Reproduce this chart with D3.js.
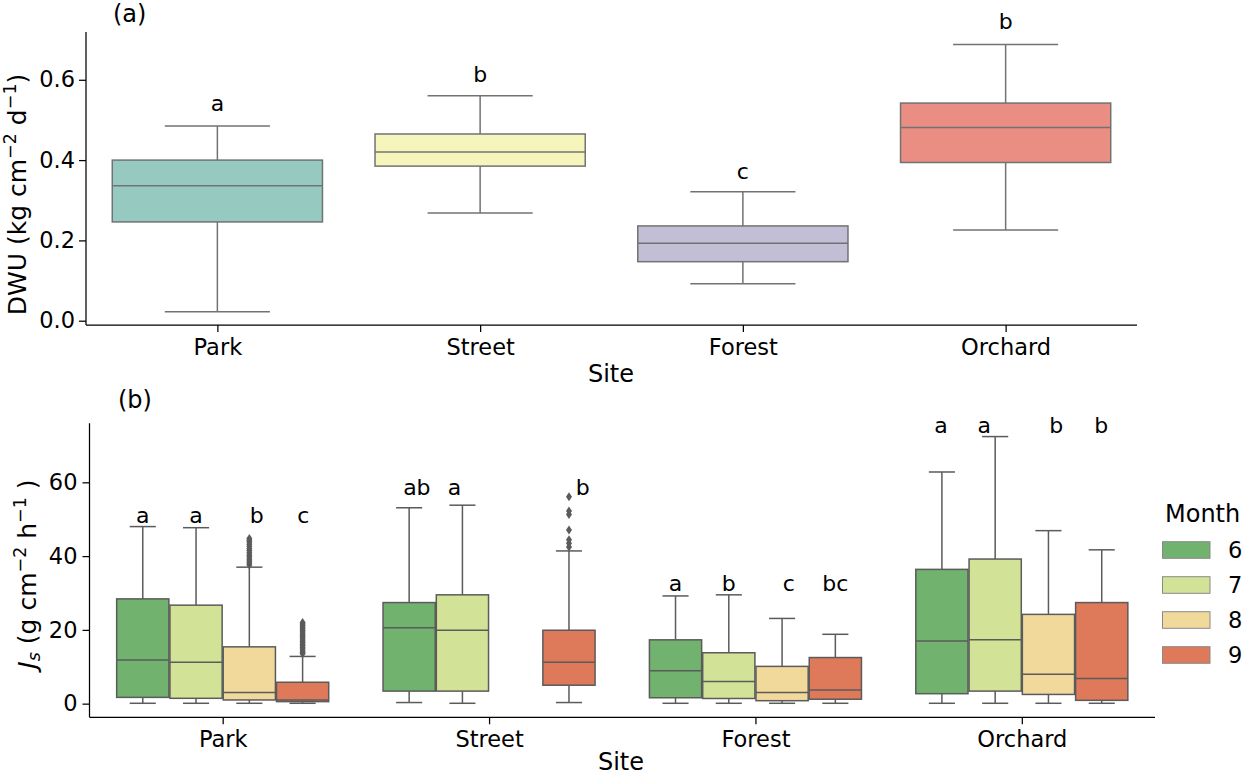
<!DOCTYPE html>
<html><head><meta charset="utf-8">
<script src="https://cdn.jsdelivr.net/npm/d3@7"></script>
<style>
html,body{margin:0;padding:0;background:#fff;}
svg{display:block;font-family:"DejaVu Sans",sans-serif;}
</style></head>
<body><svg id="chart" width="1242" height="776"></svg>
<script>
// ---------------- data ----------------
const sites = ["Park", "Street", "Forest", "Orchard"];
// panel (a): DWU box statistics
const dwuWhiskLow  = [0.022, 0.268, 0.092, 0.226];
const dwuQ1        = [0.246, 0.385, 0.147, 0.394];
const dwuMedian    = [0.336, 0.420, 0.193, 0.481];
const dwuQ3        = [0.400, 0.465, 0.236, 0.542];
const dwuWhiskHigh = [0.485, 0.560, 0.321, 0.688];
const dwuLetters   = ["a", "b", "c", "b"];
const dwuLetterY   = [0.522, 0.594, 0.353, 0.726];
const dwuColors    = ["#96cac1", "#f6f6bc", "#c1bed6", "#ea8e83"];
const dwuTicks     = [0.0, 0.2, 0.4, 0.6];

// panel (b): Js box statistics per site (rows) and month (columns)
const months = ["6", "7", "8", "9"];
const monthColors = ["#71b26e", "#d2e297", "#f0d99a", "#de7959"];
const jsWhiskLow = [[0.1, 0.1, 0.1, 0.1], [0.3, 0.1, null, 0.3], [0.1, 0.1, 0.1, 0.1], [0.1, 0.1, 0.1, 0.1]];
const jsQ1       = [[1.7, 1.45, 1.0, 0.55], [3.4, 3.4, null, 5.0], [1.6, 1.4, 0.8, 1.2], [2.7, 3.4, 2.5, 0.9]];
const jsMedian   = [[11.8, 11.2, 3.0, 1.0], [20.6, 19.9, null, 11.2], [8.9, 6.0, 3.0, 3.7], [17.0, 17.3, 8.0, 6.8]];
const jsQ3       = [[28.4, 26.7, 15.4, 5.8], [27.4, 29.5, null, 19.9], [17.3, 13.8, 10.1, 12.5], [36.4, 39.2, 24.2, 27.4]];
const jsWhiskHigh= [[48.0, 47.7, 37.0, 12.8], [53.1, 53.8, null, 41.4], [29.2, 29.5, 23.1, 18.8], [62.8, 72.4, 46.9, 41.7]];
const jsOutliers = [
  [[], [], [37.6, 38.1, 38.7, 39.2, 39.8, 40.3, 40.9, 41.5, 42.0, 42.6, 43.2, 43.8, 44.3, 44.8],
   [13.5, 13.9, 14.3, 14.8, 15.2, 15.7, 16.1, 16.6, 17.0, 17.5, 18.0, 18.4, 18.9, 19.4, 19.8, 20.3, 20.8, 21.2, 21.6, 22.0]],
  [[], [], [], [42.5, 43.5, 44.4, 47.1, 51.3, 52.2, 56.1]],
  [[], [], [], []],
  [[], [], [], []]
];
const jsLetters  = [["a", "a", "b", "c"], ["ab", "a", "", "b"], ["a", "b", "c", "bc"], ["a", "a", "b", "b"]];
const jsLetterX  = [[-0.30, -0.10, 0.128, 0.303], [-0.271, -0.13, 0, 0.352], [-0.30, -0.10, 0.125, 0.30], [-0.303, -0.141, 0.129, 0.298]];
const jsLetterY  = [49.0, 56.5, 30.5, 73.4];
const jsTicks    = [0, 20, 40, 60];

// ---------------- drawing ----------------
const svg = d3.select("#chart");
const FONT = 22.5;
const LABEL = 25;
const SUP = 17.5;

// ===== Panel (a) =====
const xa = d3.scaleLinear().domain([-0.5, 3.5]).range([86, 1137]);
const ya = d3.scaleLinear().domain([-0.0107, 0.719]).range([325, 32]);
const gA = svg.append("g");
const lineA = "#727272";
const bwA = 0.8 * (xa(1) - xa(0));

sites.forEach((s, i) => {
  const cx = xa(i);
  const g = gA.append("g");
  g.append("line").attr("x1", cx).attr("x2", cx).attr("y1", ya(dwuQ3[i])).attr("y2", ya(dwuWhiskHigh[i]))
    .attr("stroke", lineA).attr("stroke-width", 1.5);
  g.append("line").attr("x1", cx).attr("x2", cx).attr("y1", ya(dwuQ1[i])).attr("y2", ya(dwuWhiskLow[i]))
    .attr("stroke", lineA).attr("stroke-width", 1.5);
  [dwuWhiskHigh[i], dwuWhiskLow[i]].forEach(v => {
    g.append("line").attr("x1", cx - bwA / 4).attr("x2", cx + bwA / 4).attr("y1", ya(v)).attr("y2", ya(v))
      .attr("stroke", lineA).attr("stroke-width", 1.5);
  });
  g.append("rect").attr("x", cx - bwA / 2).attr("width", bwA)
    .attr("y", ya(dwuQ3[i])).attr("height", ya(dwuQ1[i]) - ya(dwuQ3[i]))
    .attr("fill", dwuColors[i]).attr("stroke", lineA).attr("stroke-width", 1.5);
  g.append("line").attr("x1", cx - bwA / 2).attr("x2", cx + bwA / 2).attr("y1", ya(dwuMedian[i])).attr("y2", ya(dwuMedian[i]))
    .attr("stroke", lineA).attr("stroke-width", 1.5);
  gA.append("text").attr("x", cx).attr("y", ya(dwuLetterY[i])).attr("text-anchor", "middle")
    .attr("font-size", 22).attr("fill", "#000").text(dwuLetters[i]);
});

const axAy = gA.append("g").attr("transform", "translate(86,0)")
  .call(d3.axisLeft(ya).tickValues(dwuTicks).tickFormat(d3.format(".1f")).tickSize(7).tickPadding(4));
const axAx = gA.append("g").attr("transform", "translate(0,325)")
  .call(d3.axisBottom(xa).tickValues([0, 1, 2, 3]).tickFormat(i => sites[i]).tickSize(7).tickPadding(7));
[axAy, axAx].forEach(ax => {
  ax.selectAll("text").attr("font-size", FONT).attr("fill", "#000").attr("font-family", "DejaVu Sans");
  ax.selectAll("line").attr("stroke", "#000").attr("stroke-width", 1.25);
  ax.select(".domain").attr("stroke", "#000").attr("stroke-width", 1.25);
});
axAy.select(".domain").attr("d", "M0,32V325");
axAx.select(".domain").attr("d", "M86,0H1137");

gA.append("text").attr("x", 611).attr("y", 382).attr("text-anchor", "middle").attr("font-size", 24).text("Site");
gA.append("text").attr("x", 113).attr("y", 22).attr("font-size", 24).text("(a)");
{
  const t = gA.append("text").attr("transform", "translate(26,194.5) rotate(-90)")
    .attr("text-anchor", "middle").attr("font-size", LABEL);
  t.append("tspan").text("DWU (kg cm");
  t.append("tspan").attr("dy", -10).attr("font-size", SUP).text("\u22122");
  t.append("tspan").attr("dy", 10).text(" d");
  t.append("tspan").attr("dy", -10).attr("font-size", SUP).text("\u22121");
  t.append("tspan").attr("dy", 10).text(")");
}

// ===== Panel (b) =====
const xb = d3.scaleLinear().domain([-0.5, 3.5]).range([89.5, 1155]);
const yb = d3.scaleLinear().domain([-3.7, 76]).range([717.3, 423.3]);
const gB = svg.append("g");
const lineB = "#5b5b5b";
const unit = xb(1) - xb(0);
const hueW = 0.8 * unit / months.length;
const boxW = hueW * 0.98;

sites.forEach((s, i) => {
  months.forEach((m, j) => {
    if (jsQ1[i][j] == null) return;
    const cx = xb(i) + (j - (months.length - 1) / 2) * hueW;
    const g = gB.append("g");
    g.append("line").attr("x1", cx).attr("x2", cx).attr("y1", yb(jsQ3[i][j])).attr("y2", yb(jsWhiskHigh[i][j]))
      .attr("stroke", lineB).attr("stroke-width", 1.5);
    g.append("line").attr("x1", cx).attr("x2", cx).attr("y1", yb(jsQ1[i][j])).attr("y2", yb(jsWhiskLow[i][j]))
      .attr("stroke", lineB).attr("stroke-width", 1.5);
    [jsWhiskHigh[i][j], jsWhiskLow[i][j]].forEach(v => {
      g.append("line").attr("x1", cx - boxW / 4).attr("x2", cx + boxW / 4).attr("y1", yb(v)).attr("y2", yb(v))
        .attr("stroke", lineB).attr("stroke-width", 1.5);
    });
    g.append("rect").attr("x", cx - boxW / 2).attr("width", boxW)
      .attr("y", yb(jsQ3[i][j])).attr("height", yb(jsQ1[i][j]) - yb(jsQ3[i][j]))
      .attr("fill", monthColors[j]).attr("stroke", lineB).attr("stroke-width", 1.5);
    g.append("line").attr("x1", cx - boxW / 2).attr("x2", cx + boxW / 2).attr("y1", yb(jsMedian[i][j])).attr("y2", yb(jsMedian[i][j]))
      .attr("stroke", lineB).attr("stroke-width", 1.5);
    jsOutliers[i][j].forEach(v => {
      const y = yb(v);
      g.append("path").attr("d", `M${cx},${y - 4.5}L${cx + 3},${y}L${cx},${y + 4.5}L${cx - 3},${y}Z`)
        .attr("fill", lineB);
    });
  });
  months.forEach((m, j) => {
    if (!jsLetters[i][j]) return;
    gB.append("text").attr("x", xb(i + jsLetterX[i][j])).attr("y", yb(jsLetterY[i]))
      .attr("text-anchor", "middle").attr("font-size", 22).text(jsLetters[i][j]);
  });
});

const axBy = gB.append("g").attr("transform", "translate(89.5,0)")
  .call(d3.axisLeft(yb).tickValues(jsTicks).tickFormat(d3.format("d")).tickSize(7).tickPadding(5));
const axBx = gB.append("g").attr("transform", "translate(0,717.3)")
  .call(d3.axisBottom(xb).tickValues([0, 1, 2, 3]).tickFormat(i => sites[i]).tickSize(7).tickPadding(6.5));
[axBy, axBx].forEach(ax => {
  ax.selectAll("text").attr("font-size", FONT).attr("fill", "#000").attr("font-family", "DejaVu Sans");
  ax.selectAll("line").attr("stroke", "#000").attr("stroke-width", 1.25);
  ax.select(".domain").attr("stroke", "#000").attr("stroke-width", 1.25);
});
axBy.select(".domain").attr("d", "M0,423.3V717.3");
axBx.select(".domain").attr("d", "M89.5,0H1155");

gB.append("text").attr("x", 621).attr("y", 770).attr("text-anchor", "middle").attr("font-size", 24).text("Site");
gB.append("text").attr("x", 118).attr("y", 408).attr("font-size", 24).text("(b)");
{
  const t = gB.append("text").attr("transform", "translate(36,574) rotate(-90)")
    .attr("text-anchor", "middle").attr("font-size", LABEL);
  t.append("tspan").attr("font-style", "italic").text("J");
  t.append("tspan").attr("font-style", "italic").attr("font-size", SUP).attr("dy", 4).text("s");
  t.append("tspan").attr("dy", -4).text(" (g cm");
  t.append("tspan").attr("dy", -10).attr("font-size", SUP).text("\u22122");
  t.append("tspan").attr("dy", 10).text(" h");
  t.append("tspan").attr("dy", -10).attr("font-size", SUP).text("\u22121");
  t.append("tspan").attr("dy", 10).text(" )");
}

// legend
const leg = svg.append("g");
leg.append("text").attr("x", 1165).attr("y", 521.5).attr("font-size", 24).text("Month");
months.forEach((m, j) => {
  const y0 = 541.7 + j * 35;
  leg.append("rect").attr("x", 1162.5).attr("y", y0).attr("width", 47.5).attr("height", 16.6)
    .attr("fill", monthColors[j]).attr("stroke", "#8a8a8a").attr("stroke-width", 1);
  leg.append("text").attr("x", 1228).attr("y", y0 + 16.3).attr("font-size", FONT).text(m);
});
</script></body></html>
